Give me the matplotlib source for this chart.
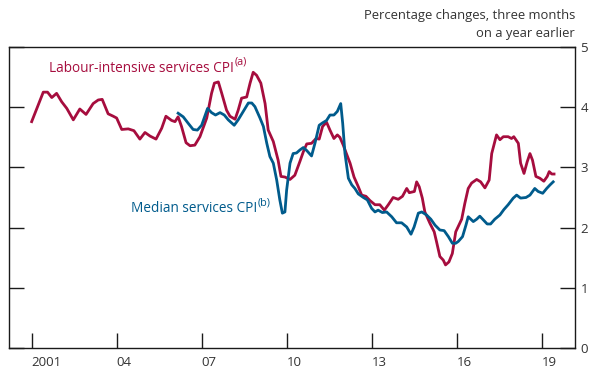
import matplotlib
matplotlib.use("Agg")
import matplotlib.pyplot as plt

plt.rcParams['font.family'] = ['Open Sans', 'DejaVu Sans']

RED = '#A60D3E'
BLUE = '#005B8C'
TEXT = '#333333'

labour_dates = [2001.00, 2001.41, 2001.56, 2001.71, 2001.88, 2002.06, 2002.24, 2002.47, 2002.70, 2002.92,
                2003.17, 2003.35, 2003.49, 2003.70, 2003.88, 2004.00, 2004.18, 2004.41, 2004.61, 2004.82,
                2005.00, 2005.18, 2005.39, 2005.59, 2005.74, 2005.94, 2006.06, 2006.17, 2006.29, 2006.45,
                2006.59, 2006.76, 2006.94, 2007.18, 2007.35, 2007.45, 2007.59, 2007.71, 2007.88, 2008.00,
                2008.18, 2008.29, 2008.41, 2008.59, 2008.71, 2008.82, 2008.94, 2009.09, 2009.24, 2009.35,
                2009.53, 2009.70, 2009.80, 2009.94, 2010.12, 2010.29, 2010.47, 2010.59, 2010.71, 2010.88,
                2011.04, 2011.15, 2011.27, 2011.41, 2011.53, 2011.67, 2011.79, 2011.88, 2012.00, 2012.11,
                2012.24, 2012.38, 2012.53, 2012.65, 2012.80, 2012.94, 2013.12, 2013.29, 2013.45, 2013.59,
                2013.76, 2013.94, 2014.09, 2014.24, 2014.33, 2014.51, 2014.59, 2014.68, 2014.79, 2014.88,
                2015.06, 2015.21, 2015.29, 2015.41, 2015.53, 2015.61, 2015.73, 2015.85, 2015.97, 2016.18,
                2016.29, 2016.41, 2016.53, 2016.71, 2016.85, 2017.00, 2017.15, 2017.24, 2017.41, 2017.53,
                2017.65, 2017.82, 2017.94, 2018.02, 2018.18, 2018.26, 2018.38, 2018.49, 2018.59, 2018.68,
                2018.80, 2018.94, 2019.08, 2019.20, 2019.27, 2019.36, 2019.44]
labour_values = [3.76, 4.25, 4.25, 4.16, 4.23, 4.09, 3.98, 3.79, 3.97, 3.88,
                 4.06, 4.12, 4.13, 3.89, 3.85, 3.82, 3.63, 3.64, 3.61, 3.47,
                 3.58, 3.52, 3.47, 3.65, 3.85, 3.78, 3.76, 3.84, 3.68, 3.41,
                 3.36, 3.37, 3.51, 3.82, 4.23, 4.40, 4.42, 4.23, 3.95, 3.85,
                 3.80, 3.95, 4.15, 4.17, 4.40, 4.58, 4.53, 4.40, 4.06, 3.62,
                 3.43, 3.12, 2.85, 2.84, 2.80, 2.87, 3.10, 3.26, 3.39, 3.40,
                 3.48, 3.47, 3.68, 3.75, 3.62, 3.48, 3.54, 3.50, 3.37, 3.23,
                 3.07, 2.84, 2.68, 2.54, 2.52, 2.45, 2.38, 2.38, 2.29, 2.38,
                 2.50, 2.47, 2.52, 2.65, 2.58, 2.60, 2.76, 2.68, 2.49, 2.26,
                 2.07, 1.93, 1.77, 1.52, 1.46, 1.38, 1.43, 1.57, 1.93, 2.14,
                 2.40, 2.65, 2.74, 2.80, 2.76, 2.66, 2.79, 3.23, 3.54, 3.46,
                 3.51, 3.51, 3.48, 3.51, 3.40, 3.07, 2.90, 3.09, 3.23, 3.12,
                 2.85, 2.82, 2.77, 2.85, 2.93, 2.89, 2.89]

median_dates = [2006.17, 2006.35, 2006.53, 2006.70, 2006.85, 2007.00, 2007.09, 2007.21, 2007.35, 2007.49,
                2007.65, 2007.80, 2007.94, 2008.15, 2008.29, 2008.47, 2008.65, 2008.77, 2008.88, 2009.06,
                2009.18, 2009.30, 2009.41, 2009.53, 2009.65, 2009.76, 2009.85, 2009.94, 2010.00, 2010.12,
                2010.23, 2010.35, 2010.47, 2010.59, 2010.71, 2010.88, 2011.00, 2011.15, 2011.27, 2011.41,
                2011.53, 2011.67, 2011.79, 2011.91, 2011.98, 2012.06, 2012.18, 2012.30, 2012.41, 2012.53,
                2012.71, 2012.85, 2013.00, 2013.12, 2013.23, 2013.38, 2013.53, 2013.71, 2013.88, 2014.06,
                2014.24, 2014.39, 2014.50, 2014.65, 2014.77, 2014.94, 2015.09, 2015.24, 2015.41, 2015.56,
                2015.71, 2015.85, 2015.97, 2016.06, 2016.21, 2016.33, 2016.41, 2016.59, 2016.71, 2016.82,
                2016.94, 2017.08, 2017.20, 2017.35, 2017.53, 2017.67, 2017.82, 2018.00, 2018.12, 2018.26,
                2018.45, 2018.59, 2018.76, 2018.88, 2019.04, 2019.18, 2019.30, 2019.41]
median_values = [3.90, 3.84, 3.73, 3.63, 3.62, 3.70, 3.82, 3.98, 3.91, 3.87,
                 3.91, 3.87, 3.79, 3.70, 3.79, 3.93, 4.07, 4.07, 4.01, 3.82,
                 3.68, 3.40, 3.18, 3.07, 2.79, 2.46, 2.24, 2.26, 2.62, 3.07,
                 3.23, 3.24, 3.29, 3.33, 3.28, 3.19, 3.40, 3.70, 3.74, 3.78,
                 3.87, 3.87, 3.93, 4.06, 3.73, 3.23, 2.82, 2.71, 2.65, 2.56,
                 2.50, 2.46, 2.32, 2.26, 2.29, 2.25, 2.26, 2.18, 2.08, 2.08,
                 2.01, 1.89, 2.01, 2.24, 2.26, 2.21, 2.14, 2.04, 1.96, 1.95,
                 1.85, 1.74, 1.74, 1.77, 1.85, 2.04, 2.18, 2.10, 2.14, 2.19,
                 2.13, 2.06, 2.06, 2.14, 2.21, 2.30, 2.38, 2.49, 2.54, 2.49,
                 2.50, 2.54, 2.65, 2.60, 2.57, 2.65, 2.71, 2.76]

x_ticks = [2001, 2004, 2007, 2010, 2013, 2016, 2019]
x_tick_labels = ['2001', '04', '07', '10', '13', '16', '19']
y_ticks = [0, 1, 2, 3, 4, 5]

W, H = 592, 372
fig = plt.figure(figsize=(W / 100, H / 100), dpi=100)
ax = fig.add_axes([9 / W, (H - 348) / H, (575 - 9) / W, (348 - 47) / H])

ax.plot(median_dates, median_values, color=BLUE, lw=2.0, solid_joinstyle='round', zorder=3)
ax.plot(labour_dates, labour_values, color=RED, lw=2.0, solid_joinstyle='round', zorder=2)

ax.set_xlim(2000.20, 2020.18)
ax.set_ylim(0, 5)

for s in ax.spines.values():
    s.set_linewidth(1.0)
    s.set_color('#1a1a1a')

ax.set_xticks(x_ticks)
ax.set_xticklabels(x_tick_labels)
for lab in ax.get_xticklabels():
    lab.set_horizontalalignment('left')
ax.set_yticks(y_ticks)
ax.tick_params(axis='x', direction='in', length=10.5, width=1.0, color='#1a1a1a',
               labelsize=9.5, labelcolor=TEXT, pad=6)
ax.tick_params(axis='y', direction='in', length=10.5, width=1.0, color='#1a1a1a',
               left=True, right=True, labelleft=False, labelright=True,
               labelsize=9.5, labelcolor=TEXT, pad=4)

fig.text(575 / W, 1 - 15 / H, 'Percentage changes, three months', ha='right', va='center',
         fontsize=9.4, color=TEXT)
fig.text(575 / W, 1 - 34 / H, 'on a year earlier', ha='right', va='center',
         fontsize=9.4, color=TEXT)

def label_with_sup(x_px, y_px, main, sup, color):
    t = fig.text(x_px / W, 1 - y_px / H, main, ha='left', va='center', fontsize=9.8, color=color)
    fig.canvas.draw()
    bb = t.get_window_extent()
    fig.text(bb.x1 / W + 0.5 / W, 1 - (y_px - 6) / H, sup, ha='left', va='center',
             fontsize=7.8, color=color)

label_with_sup(49, 68, 'Labour-intensive services CPI', '(a)', RED)
label_with_sup(131, 209, 'Median services CPI', '(b)', BLUE)

fig.savefig('out.png', dpi=100)
